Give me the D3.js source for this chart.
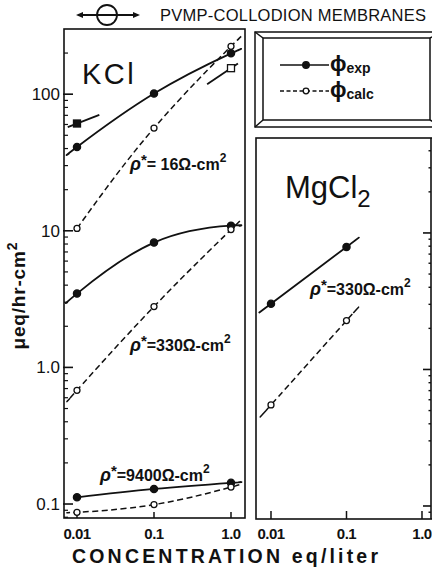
<!DOCTYPE html>
<html><head><meta charset="utf-8">
<script src="https://cdn.jsdelivr.net/npm/d3@7"></script>
<style>body{margin:0;background:#fff}svg{display:block}</style>
</head><body>
<script>
// ---------------- data ----------------
const concKCl = [0.01, 0.1, 1.0];
const concMg = [0.01, 0.1];
const kcl16Exp = [41, 101, 199];
const kcl16Calc = [10.4, 56.5, 224];
const kcl330Exp = [3.47, 8.2, 10.9];
const kcl330Calc = [0.68, 2.79, 10.2];
const kcl9400Exp = [0.112, 0.129, 0.143];
const kcl9400Calc = [0.087, 0.099, 0.133];
const mg330Exp = [3.03, 7.9];
const mg330Calc = [0.55, 2.28];
// isolated extra KCl measurements (ρ*=16) with short local segments
const extraConc = [0.01, 1.0];
const extraVal = [61, 155];
const extraKind = ["filled", "open"];
const extraSlope = [0.22, 0.38];           // local log-log slope
const extraReach = [[-0.12, 0.29], [-0.31, 0.09]]; // decades of x
const xTickVals = [0.01, 0.1, 1.0];
const xTickLabels = ["0.01", "0.1", "1.0"];
const yTickVals = [0.1, 1, 10, 100];
const yTickLabels = ["0.1", "1.0", "10", "100"];
const titleText = "PVMP-COLLODION MEMBRANES";
const xTitle = "CONCENTRATION eq/liter";

// ---------------- setup ----------------
const W = 432, H = 572;
const svg = d3.select("body").append("svg").attr("width", W).attr("height", H);
const ink = "#111";
const FONT = "'Liberation Sans', Arial, sans-serif";

const L = {x0: 64, x1: 245, y0: 29, y1: 518};
const R = {x0: 256, x1: 431, y0: 138, y1: 519};

const xL = d3.scaleLog().domain([0.00678, 1.52]).range([L.x0, L.x1]);
const yL = d3.scaleLog().domain([0.079, 300]).range([L.y1, L.y0]);
const xR = d3.scaleLog().domain([0.00633, 1.316]).range([R.x0, R.x1]);
const yR = d3.scaleLog().domain([0.0803, 49.6]).range([R.y1, R.y0]);

// ---------------- title & icon ----------------
const icon = svg.append("g").attr("stroke", ink).attr("fill", "none").attr("stroke-width", 1.8);
icon.append("line").attr("x1", 80).attr("x2", 136).attr("y1", 15).attr("y2", 15);
icon.append("circle").attr("cx", 107).attr("cy", 15).attr("r", 10);
icon.append("path").attr("d", "M76,15 L83,12 L83,18 Z").attr("fill", ink).attr("stroke", "none");
icon.append("path").attr("d", "M140,15 L133,12 L133,18 Z").attr("fill", ink).attr("stroke", "none");

svg.append("text").attr("x", 160).attr("y", 21)
  .attr("font-family", FONT).attr("font-size", 16.5).attr("fill", ink)
  .attr("textLength", 266).attr("lengthAdjust", "spacing")
  .text(titleText);

// ---------------- left panel frame ----------------
const gL = svg.append("g");
gL.append("rect").attr("x", L.x0).attr("y", L.y0).attr("width", L.x1 - L.x0).attr("height", L.y1 - L.y0)
  .attr("fill", "none").attr("stroke", ink).attr("stroke-width", 1.6);

const minorL = [];
for (let d = -2; d <= 2; d++) for (let m = 2; m <= 9; m++) {
  const v = m * Math.pow(10, d);
  if (v > yL.domain()[0] && v < yL.domain()[1]) minorL.push(v);
}
gL.selectAll(".mnl").data(minorL).join("line")
  .attr("x1", L.x0).attr("x2", L.x0 + 4).attr("y1", d => yL(d)).attr("y2", d => yL(d))
  .attr("stroke", ink).attr("stroke-width", 1.2);
gL.selectAll(".mjl").data(yTickVals).join("line")
  .attr("x1", L.x0 - 1).attr("x2", L.x0 + 9).attr("y1", d => yL(d)).attr("y2", d => yL(d))
  .attr("stroke", ink).attr("stroke-width", 1.6);
gL.selectAll(".ytl").data(yTickVals).join("text")
  .attr("x", L.x0 - 4).attr("y", d => yL(d) + 6).attr("text-anchor", "end")
  .attr("font-family", FONT).attr("font-size", 17).attr("fill", ink)
  .text((d, i) => yTickLabels[i]);

gL.selectAll(".xtk").data(xTickVals).join("line")
  .attr("x1", d => xL(d)).attr("x2", d => xL(d)).attr("y1", L.y1).attr("y2", L.y1 - 6)
  .attr("stroke", ink).attr("stroke-width", 1.5);
gL.selectAll(".xtl").data(xTickVals).join("text")
  .attr("x", d => xL(d)).attr("y", 539).attr("text-anchor", "middle")
  .attr("font-family", FONT).attr("font-weight", "bold").attr("font-size", 15).attr("fill", ink)
  .attr("letter-spacing", -0.5)
  .text((d, i) => xTickLabels[i]);

// ---------------- right panel frame ----------------
const gR = svg.append("g");
gR.append("rect").attr("x", R.x0).attr("y", R.y0).attr("width", R.x1 - R.x0 + 10).attr("height", R.y1 - R.y0)
  .attr("fill", "none").attr("stroke", ink).attr("stroke-width", 1.6);
gR.append("line").attr("x1", R.x1).attr("x2", R.x1).attr("y1", R.y0).attr("y2", R.y1)
  .attr("stroke", ink).attr("stroke-width", 1.6);
const minorR = [];
for (let d = -2; d <= 1; d++) for (let m = 2; m <= 9; m++) {
  const v = m * Math.pow(10, d);
  if (v > yR.domain()[0] && v < yR.domain()[1]) minorR.push(v);
}
gR.selectAll(".mnr").data(minorR).join("line")
  .attr("x1", R.x1).attr("x2", R.x1 - 2.5).attr("y1", d => yR(d)).attr("y2", d => yR(d))
  .attr("stroke", ink).attr("stroke-width", 1.4);
gR.selectAll(".mjr").data(yTickVals.filter(v => v < yR.domain()[1])).join("line")
  .attr("x1", R.x1).attr("x2", R.x1 - 8).attr("y1", d => yR(d)).attr("y2", d => yR(d))
  .attr("stroke", ink).attr("stroke-width", 1.6);
gR.selectAll(".xtkr").data(xTickVals).join("line")
  .attr("x1", d => xR(d)).attr("x2", d => xR(d)).attr("y1", R.y1).attr("y2", R.y1 - 8)
  .attr("stroke", ink).attr("stroke-width", 1.5);
gR.selectAll(".xtlr").data(xTickVals).join("text")
  .attr("x", d => xR(d)).attr("y", 539).attr("text-anchor", "middle")
  .attr("font-family", FONT).attr("font-weight", "bold").attr("font-size", 15).attr("fill", ink)
  .attr("letter-spacing", -0.5)
  .text((d, i) => xTickLabels[i]);

// ---------------- legend box ----------------
const lg = svg.append("g").attr("stroke", ink).attr("fill", "none").attr("stroke-width", 1.5);
const ob = {x0: 255, y0: 32, x1: 442, y1: 127}, ib = {x0: 263, y0: 38, x1: 430, y1: 120};
lg.append("rect").attr("x", ob.x0).attr("y", ob.y0).attr("width", ob.x1 - ob.x0).attr("height", ob.y1 - ob.y0);
lg.append("rect").attr("x", ib.x0).attr("y", ib.y0).attr("width", ib.x1 - ib.x0).attr("height", ib.y1 - ib.y0);
[[ob.x0, ob.y0, ib.x0, ib.y0], [ob.x0, ob.y1, ib.x0, ib.y1], [ob.x1, ob.y0, ib.x1, ib.y0], [ob.x1, ob.y1, ib.x1, ib.y1]]
  .forEach(c => lg.append("line").attr("x1", c[0]).attr("y1", c[1]).attr("x2", c[2]).attr("y2", c[3]));
const legItems = [{kind: "exp", y: 65, sub: "exp"}, {kind: "calc", y: 91, sub: "calc"}];
legItems.forEach(it => {
  svg.append("line").attr("x1", 280).attr("x2", 329).attr("y1", it.y).attr("y2", it.y)
    .attr("stroke", ink).attr("stroke-width", it.kind === "exp" ? 1.6 : 1.3)
    .attr("stroke-dasharray", it.kind === "exp" ? null : "4,2.5");
  svg.append("circle").attr("cx", 306).attr("cy", it.y).attr("r", it.kind === "exp" ? 3.3 : 2.8)
    .attr("fill", it.kind === "exp" ? ink : "#fff").attr("stroke", ink).attr("stroke-width", 1.3);
  const t = svg.append("text").attr("x", 330).attr("y", it.y + 6)
    .attr("font-family", FONT).attr("fill", ink);
  t.append("tspan").attr("font-size", 22).attr("font-weight", "bold").text("ϕ");
  t.append("tspan").attr("font-size", 14).attr("font-weight", "bold").attr("dy", 2).text(it.sub);
});

// ---------------- series ----------------
// extension of each drawn curve a little beyond its end points (in decades of x),
// following the curve's own trend (quadratic in log-log for 3 points, linear for 2)
function trend(lx, ly, x) {
  if (lx.length === 2) return ly[0] + (ly[1] - ly[0]) * (x - lx[0]) / (lx[1] - lx[0]);
  let s = 0;
  for (let i = 0; i < 3; i++) {
    let t = ly[i];
    for (let j = 0; j < 3; j++) if (j !== i) t *= (x - lx[j]) / (lx[i] - lx[j]);
    s += t;
  }
  return s;
}
function extend(conc, val, extL, extR) {
  const lx = conc.map(Math.log10), ly = val.map(Math.log10);
  const pts = conc.map((c, i) => [c, val[i]]);
  const n = lx.length;
  if (extL > 0) { const x = lx[0] - extL; pts.unshift([Math.pow(10, x), Math.pow(10, trend(lx, ly, x))]); }
  if (extR > 0) { const x = lx[n - 1] + extR; pts.push([Math.pow(10, x), Math.pow(10, trend(lx, ly, x))]); }
  return pts;
}
const series = [
  {p: "L", conc: concKCl, val: kcl16Exp, kind: "exp", eL: 0.1, eR: 0.09},
  {p: "L", conc: concKCl, val: kcl16Calc, kind: "calc", eL: 0, eR: 0.08},
  {p: "L", conc: concKCl, val: kcl330Exp, kind: "exp", eL: 0.12, eR: 0.1},
  {p: "L", conc: concKCl, val: kcl330Calc, kind: "calc", eL: 0.09, eR: 0.07},
  {p: "L", conc: concKCl, val: kcl9400Exp, kind: "exp", eL: 0, eR: 0.09},
  {p: "L", conc: concKCl, val: kcl9400Calc, kind: "calc", eL: 0.09, eR: 0.07},
  {p: "R", conc: concMg, val: mg330Exp, kind: "exp", eL: 0.08, eR: 0.1},
  {p: "R", conc: concMg, val: mg330Calc, kind: "calc", eL: 0.05, eR: 0.09}
];
series.forEach(s => {
  const xs = s.p === "L" ? xL : xR, ys = s.p === "L" ? yL : yR;
  const pts = extend(s.conc, s.val, s.eL, s.eR);
  const line = d3.line().x(d => xs(d[0])).y(d => ys(d[1])).curve(d3.curveNatural);
  svg.append("path").attr("d", line(pts)).attr("fill", "none").attr("stroke", ink)
    .attr("stroke-width", s.kind === "exp" ? 1.8 : 1.5)
    .attr("stroke-dasharray", s.kind === "exp" ? null : "6,3.5");
  svg.selectAll(null).data(s.conc.map((c, i) => [c, s.val[i]])).join("circle")
    .attr("cx", d => xs(d[0])).attr("cy", d => ys(d[1]))
    .attr("r", s.kind === "exp" ? 3.6 : 3)
    .attr("fill", s.kind === "exp" ? ink : "#fff").attr("stroke", ink).attr("stroke-width", 1.3);
});
extraConc.forEach((c, i) => {
  const lx = Math.log10(c), ly = Math.log10(extraVal[i]);
  const a = extraReach[i][0], b = extraReach[i][1];
  svg.append("line")
    .attr("x1", xL(Math.pow(10, lx + a))).attr("y1", yL(Math.pow(10, ly + extraSlope[i] * a)))
    .attr("x2", xL(Math.pow(10, lx + b))).attr("y2", yL(Math.pow(10, ly + extraSlope[i] * b)))
    .attr("stroke", ink).attr("stroke-width", 1.8);
  svg.append("rect").attr("x", xL(c) - 3.5).attr("y", yL(extraVal[i]) - 3.5)
    .attr("width", 7).attr("height", 7)
    .attr("fill", extraKind[i] === "filled" ? ink : "#fff").attr("stroke", ink).attr("stroke-width", 1.3);
});

// ---------------- labels ----------------
svg.append("text").attr("x", 82).attr("y", 84).attr("font-family", FONT).attr("font-size", 29)
  .attr("fill", ink).attr("letter-spacing", 2.5).text("KCl");
const mg = svg.append("text").attr("x", 285).attr("y", 198).attr("font-family", FONT).attr("font-size", 31).attr("fill", ink);
mg.append("tspan").text("MgCl");
mg.append("tspan").attr("dy", 9).attr("font-size", 24).text("2");

function rhoLabel(x, y, num) {
  const t = svg.append("text").attr("x", x).attr("y", y).attr("font-family", FONT)
    .attr("font-size", 16).attr("font-weight", "bold").attr("fill", ink);
  t.append("tspan").attr("font-style", "italic").attr("font-size", 18).text("ρ");
  t.append("tspan").attr("dy", -5).attr("font-size", 15).text("*");
  t.append("tspan").attr("dy", 5).text("=" + num + "Ω-cm");
  t.append("tspan").attr("dy", -8).attr("font-size", 12).text("2");
}
rhoLabel(130, 170, " 16");
rhoLabel(130, 351, "330");
rhoLabel(100, 481, "9400");
rhoLabel(310, 295, "330");

svg.append("text").attr("transform", "translate(25,296) rotate(-90)").attr("text-anchor", "middle")
  .attr("font-family", FONT).attr("font-weight", "bold").attr("font-size", 19).attr("fill", ink)
  .attr("textLength", 107).attr("lengthAdjust", "spacing")
  .html("μeq/hr-cm<tspan dy='-8' font-size='14'>2</tspan>");
svg.append("text").attr("x", 72).attr("y", 563).attr("font-family", FONT)
  .attr("font-weight", "bold").attr("font-size", 19.5).attr("fill", ink)
  .attr("textLength", 306).attr("lengthAdjust", "spacing").text(xTitle);
</script>
</body></html>
